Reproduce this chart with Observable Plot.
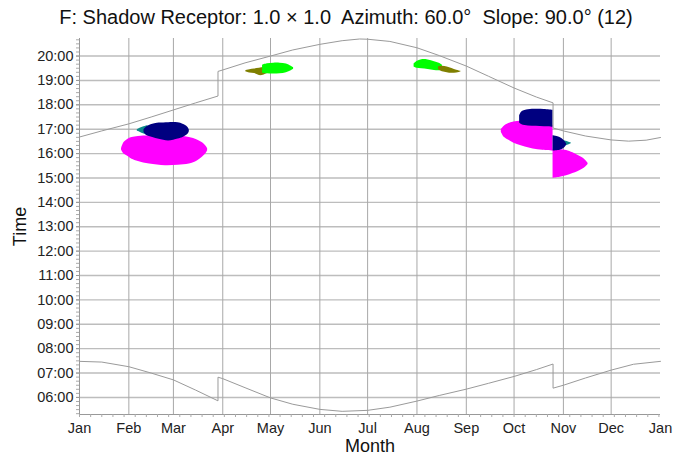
<!DOCTYPE html>
<html><head><meta charset="utf-8">
<script src="https://cdn.jsdelivr.net/npm/d3@7"></script>
<script src="https://cdn.jsdelivr.net/npm/@observablehq/plot@0.6"></script>
<style>
body{margin:0;background:#fff;font-family:Arial,"Liberation Sans",sans-serif;}
#title{box-sizing:border-box;height:32px;width:692px;padding-top:2px;text-align:center;font-size:20px;line-height:30px;white-space:pre;color:#111;}
#chart svg{display:block;}
</style></head><body>
<div id="title">F: Shadow Receptor: 1.0 × 1.0  Azimuth: 60.0°  Slope: 90.0° (12)</div>
<div id="chart"></div>
<script>
// Axis ticks (day of year) and labels
const monthTicks = [0,31,59,90,120,151,181,212,243,273,304,334,365];
const monthLabels = ["Jan","Feb","Mar","Apr","May","Jun","Jul","Aug","Sep","Oct","Nov","Dec","Jan"];
const hourTicks = [6,7,8,9,10,11,12,13,14,15,16,17,18,19,20];
const hourLabels = ["06:00","07:00","08:00","09:00","10:00","11:00","12:00","13:00","14:00","15:00","16:00","17:00","18:00","19:00","20:00"];

// Sunset / sunrise (day of year, hour)
const sunsetDay  = [0,14,31,45,59,73,87,87,90,104,120,134,151,165,176,181,195,212,226,243,257,273,287,297.5,297.5,304,318,334,345,356,365];
const sunsetTime = [16.68,16.93,17.22,17.50,17.79,18.08,18.36,19.37,19.43,19.72,20.00,20.25,20.48,20.63,20.70,20.69,20.60,20.34,20.02,19.59,19.17,18.69,18.32,18.08,17.05,16.93,16.72,16.56,16.51,16.55,16.66];
const sunriseDay  = [0,14,31,45,59,73,87,87,90,104,120,134,151,165,181,195,212,226,243,257,273,287,297.5,297.5,304,318,334,348,365];
const sunriseTime = [7.48,7.45,7.26,7.00,6.72,6.30,5.86,6.83,6.77,6.40,5.98,5.72,5.51,5.43,5.47,5.60,5.85,6.08,6.34,6.58,6.86,7.14,7.37,6.38,6.50,6.80,7.12,7.36,7.48];

// Shadow periods: [day, start hour, end hour]
const magentaSpring = [[26.4,16.15,16.20],[28,15.98,16.45],[31,15.86,16.61],[33,15.77,16.66],[37,15.68,16.70],[44,15.57,16.73],[54,15.50,16.74],[62,15.52,16.72],[69,15.57,16.66],[74,15.70,16.56],[77,15.84,16.45],[79.5,16.00,16.30],[80.5,16.12,16.20]];
const tealSpring = [[36.3,16.93,16.98],[38,16.88,17.04],[40.5,16.80,17.10],[43,16.76,17.14]];
const navySpring = [[40.5,16.88,16.98],[42,16.75,17.08],[46,16.66,17.20],[50,16.59,17.25],[56,16.52,17.27],[62,16.60,17.26],[65,16.66,17.20],[68,16.78,17.08],[69,16.90,16.96]];
const oliveSpring = [[104.5,19.36,19.40],[107,19.31,19.44],[110,19.28,19.47],[113,19.20,19.50],[116,19.22,19.53],[118,19.28,19.55]];
const greenSpring = [[115,19.30,19.62],[118,19.27,19.68],[122,19.26,19.71],[126,19.27,19.71],[130,19.32,19.67],[133,19.40,19.58],[134.5,19.46,19.52]];
const greenSummer = [[210.2,19.55,19.68],[212,19.50,19.78],[215,19.48,19.85],[219,19.45,19.84],[223,19.41,19.77],[226,19.40,19.70],[228,19.42,19.62]];
const oliveSummer = [[225.5,19.45,19.55],[228,19.36,19.58],[231,19.32,19.55],[234,19.29,19.49],[237,19.31,19.42],[239.6,19.35,19.38]];
const magentaAutumn = [[265,16.88,16.98],[267,16.66,17.13],[271,16.50,17.27],[275,16.37,17.32],[280,16.27,17.33],[285,16.19,17.30],[291,16.14,17.25],[297.5,16.11,17.15]];
const navyAutumn = [[276.5,17.25,17.55],[278,17.18,17.72],[282,17.13,17.80],[287,17.12,17.82],[292,17.10,17.81],[297.5,17.08,17.78]];
const magentaLate = [[297.5,14.99,16.18],[302,15.03,16.16],[306,15.09,16.13],[310,15.18,16.03],[313,15.26,15.93],[316,15.36,15.83],[318,15.45,15.72],[319.5,15.55,15.60]];
const tealLate = [[302,16.25,16.55],[305,16.30,16.52],[307.5,16.36,16.47],[309,16.40,16.43]];
const navyLate = [[297.5,16.11,16.73],[300,16.12,16.70],[303,16.16,16.62],[305,16.25,16.50],[306,16.35,16.40]];

const blobs = [
  [magentaSpring,"#ff00ff"],[tealSpring,"#0b8a8a"],[navySpring,"#000080"],
  [oliveSpring,"#7f7f00"],[greenSpring,"#00ff00"],
  [greenSummer,"#00ff00"],[oliveSummer,"#7f7f00"],
  [magentaAutumn,"#ff00ff"],[navyAutumn,"#000080"],
  [magentaLate,"#ff00ff"],[tealLate,"#0b8a8a"],[navyLate,"#000080"]
];

const sunset = sunsetDay.map((d,i)=>({day:d, t:sunsetTime[i]}));
const sunrise = sunriseDay.map((d,i)=>({day:d, t:sunriseTime[i]}));
const minorX = d3.range(0,366,7);
const minorY = d3.range(0,200).map(i=>5+i/6).filter(v=>v>=5.3 && v<=20.72);

const chart = Plot.plot({
  width:692, height:425, marginLeft:79, marginRight:32, marginTop:6, marginBottom:43,
  style:{fontFamily:"Arial, 'Liberation Sans', sans-serif", background:"#fff", color:"#222", overflow:"visible"},
  x:{domain:[0,365], label:null},
  y:{domain:[5.3,20.72], label:null},
  marks:[
    Plot.ruleY(hourTicks,{stroke:"#bdbdbd", strokeWidth:1.4}),
    Plot.ruleX(monthTicks.slice(1,-1),{stroke:"#a8a8a8", strokeWidth:1}),
    ...blobs.map(([data,color])=>Plot.areaY(data,{x:d=>d[0], y1:d=>d[1], y2:d=>d[2], fill:color, curve:"catmull-rom"})),
    Plot.line(sunset,{x:"day", y:"t", stroke:"#9a9a9a", strokeWidth:1}),
    Plot.line(sunrise,{x:"day", y:"t", stroke:"#9a9a9a", strokeWidth:1}),
    Plot.ruleX([0],{stroke:"#999"}),
    Plot.ruleY([5.3],{stroke:"#999"}),
    Plot.axisY(minorY,{tickSize:3, tickFormat:()=>"", stroke:"#aaa", label:null}),
    Plot.axisY(hourTicks,{tickSize:3, tickPadding:3, fontSize:14.5, stroke:"#999", fill:"#222", tickFormat:d=>hourLabels[hourTicks.indexOf(d)], label:null}),
    Plot.axisX(minorX,{tickSize:3, tickFormat:()=>"", stroke:"#aaa", label:null}),
    Plot.axisX(monthTicks,{tickSize:0, tickPadding:8, fontSize:14.5, fill:"#222", tickFormat:d=>monthLabels[monthTicks.indexOf(d)], label:null}),
    Plot.text(["Time"],{text:d=>d, frameAnchor:"left", textAnchor:"middle", lineAnchor:"middle", rotate:-90, dx:-59, fontSize:18, fill:"#111"}),
    Plot.text(["Month"],{text:d=>d, frameAnchor:"bottom", textAnchor:"middle", lineAnchor:"middle", dy:32, fontSize:18, fill:"#111"})
  ]
});
document.getElementById("chart").appendChild(chart);
</script></body></html>
